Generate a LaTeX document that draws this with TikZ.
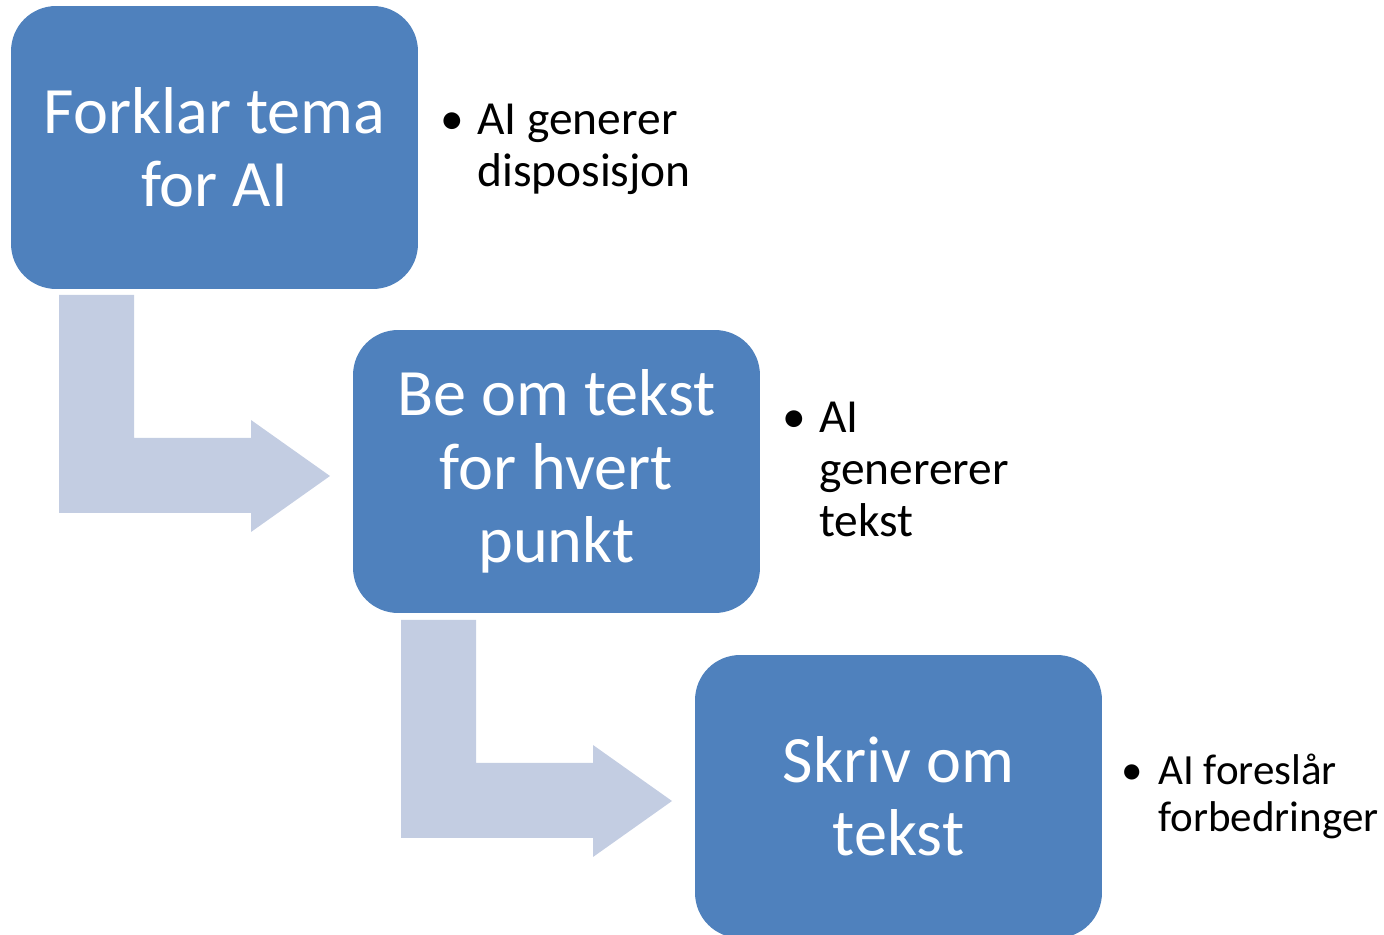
\documentclass[tikz,border=0pt]{standalone}
\usepackage{fontspec}
\setmainfont{Carlito}
\definecolor{boxblue}{HTML}{4F81BD}
\definecolor{arrowgray}{HTML}{C3CDE2}
\newcommand{\notebullet}{\makebox[21pt][l]{\textbullet}}
\newcommand{\noteindent}{\hspace{21pt}}
\tikzset{
  stepbox/.style={rectangle, rounded corners=0.9cm, fill=boxblue, text=white,
    minimum width=8.14cm, minimum height=5.66cm, align=center, inner sep=0pt,
    font=\fontsize{37.7}{41.8}\selectfont},
  bentarrow/.style={fill=arrowgray},
  note/.style={anchor=base west, inner sep=0pt, font=\fontsize{27}{29.5}\selectfont},
  smallnote/.style={note, font=\fontsize{24.5}{26.6}\selectfont},
}
\begin{document}
\begin{tikzpicture}[x=0.02cm, y=-0.02cm]
\useasboundingbox (0,0) rectangle (1384,935);
% bent arrows
\fill[bentarrow] (59,295) -- (134,295) -- (134,438) -- (251,438) -- (251,420)
                 -- (330,476) -- (251,532) -- (251,513) -- (59,513) -- cycle;
\fill[bentarrow] (401,620) -- (476,620) -- (476,763) -- (593,763) -- (593,745)
                 -- (672,801) -- (593,857) -- (593,838) -- (401,838) -- cycle;
% steps
\node[stepbox] (forklar) at (214.5,147.5) {Forklar tema\\for AI};
\node[stepbox] (beom) at (556.5,471.5) {Be om tekst\\for hvert\\punkt};
\node[stepbox] (skriv) at (898.5,796.5) {Skriv om\\tekst};
% notes
\node[note] (disp) at (440,135) {\begin{tabular}[t]{@{}l@{}}\notebullet AI generer\\\noteindent disposisjon\end{tabular}};
\node[note] (gen) at (782,433) {\begin{tabular}[t]{@{}l@{}}\notebullet AI\\\noteindent genererer\\\noteindent tekst\end{tabular}};
\node[smallnote] (forb) at (1121,785) {\begin{tabular}[t]{@{}l@{}}\notebullet AI foreslår\\\noteindent forbedringer\end{tabular}};
\end{tikzpicture}
\end{document}
